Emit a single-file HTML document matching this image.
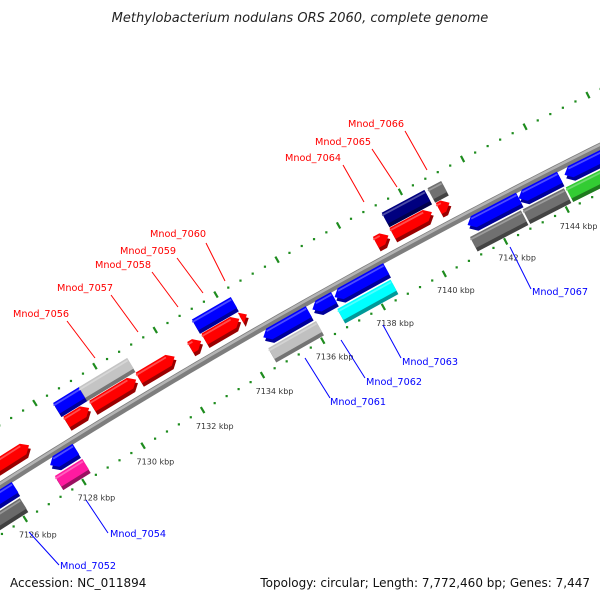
<!DOCTYPE html>
<html><head><meta charset="utf-8"><style>
html,body{margin:0;padding:0;background:#fff;}
svg{display:block;font-family:"DejaVu Sans","Liberation Sans",sans-serif;}
</style></head><body>
<svg id="chart" width="600" height="600" viewBox="0 0 600 600" xmlns="http://www.w3.org/2000/svg">
<rect width="600" height="600" fill="#fff"/>
<text x="300" y="22" text-anchor="middle" font-size="13" font-style="italic" fill="#222">Methylobacterium nodulans ORS 2060, complete genome</text>
<g id="ticks"></g>
<g id="axis"></g>
<g id="genes"></g>
<g id="labels"></g>
<text x="10" y="587" font-size="12" fill="#111">Accession: NC_011894</text>
<text x="590" y="587" font-size="12" fill="#111" text-anchor="end">Topology: circular; Length: 7,772,460 bp; Genes: 7,447</text>
</svg>
<script>
const geneStarts=[7125.0,7128.48,7129.35,7130.9,7132.61,7133.08,7134.28,7138.70,7139.24,7140.74,
 7128.44,7129.3,7133.05,7139.25,7140.73,
 7125.0,7127.43,7134.56,7136.18,7136.91,7141.25,7142.9,7144.38,
 7125.0,7127.38,7134.53,7136.81,7141.15,7142.86,7144.25];
const geneEnds=[7127.22,7129.24,7130.81,7132.09,7132.97,7134.23,7134.48,7139.11,7140.52,7141.09,
 7129.32,7130.91,7134.33,7140.63,7141.17,
 7126.24,7128.30,7136.06,7136.89,7138.6,7142.91,7144.23,7146.5,
 7126.19,7128.31,7136.11,7138.56,7142.80,7144.19,7146.5];
const geneRows=[0,0,0,0,0,0,0,0,0,0, 1,1,1,1,1, 2,2,2,2,2,2,2,2, 3,3,3,3,3,3,3];
const geneColors=["#ff0000","#ff0000","#ff0000","#ff0000","#ff0000","#ff0000","#ff0000","#ff0000","#ff0000","#ff0000",
 "#0000ff","#c4c4c4","#0000ff","#000080","#707070",
 "#0000ff","#0000ff","#0000ff","#0000ff","#0000ff","#0000ff","#0000ff","#0000ff",
 "#6a6a6a","#ff1aa0","#c0c0c0","#00ffff","#707070","#707070","#33cc33"];
const geneArrows=[1,1,1,1,1,1,1,1,1,1, 0,0,0,0,0, -1,-1,-1,-1,-1,-1,-1,-1, 0,0,0,0,0,0,0];
const tickKbp=[7124,7126,7128,7130,7132,7134,7136,7138,7140,7142,7144,7146];
const tickLabels=["7124 kbp","7126 kbp","7128 kbp","7130 kbp","7132 kbp","7134 kbp","7136 kbp","7138 kbp","7140 kbp","7142 kbp","7144 kbp","7146 kbp"];

const NS="http://www.w3.org/2000/svg";
const CX=3549,CY=6064,R=6612,K0=7128,A0=-121.83,DEG=0.3025;
const rowTop=[24.5,41.5,-3.5,-21.5], rowBot=[12,29,-16,-34];
function P(k,r){const a=(A0+(k-K0)*DEG)*Math.PI/180;const rr=R+r;return [CX+rr*Math.cos(a),CY+rr*Math.sin(a)];}
function pts(arr){return arr.map(p=>p[0].toFixed(2)+","+p[1].toFixed(2)).join(" ");}
function shade(hex,f){const n=parseInt(hex.slice(1),16);let r=n>>16,g=(n>>8)&255,b=n&255;
 if(f<1){r*=f;g*=f;b*=f;}else{r=r+(255-r)*(f-1);g=g+(255-g)*(f-1);b=b+(255-b)*(f-1);}
 return "rgb("+Math.round(r)+","+Math.round(g)+","+Math.round(b)+")";}

const tg=document.getElementById('ticks');
[51,-42].forEach(function(rr,li){
 for(let i=0;i<=60;i++){
  const k=7124+i*0.4;
  const major=(i%5===0);
  if(major){
   const a=P(k,rr-3.5),b=P(k,rr+3.5);
   const l=document.createElementNS(NS,'line');
   l.setAttribute('x1',a[0]);l.setAttribute('y1',a[1]);l.setAttribute('x2',b[0]);l.setAttribute('y2',b[1]);
   l.setAttribute('stroke','#1e8c1e');l.setAttribute('stroke-width','2.2');
   
   
   tg.appendChild(l);
  }else{
   const p=P(k,rr);
   const c=document.createElementNS(NS,'rect');
   c.setAttribute('x',p[0]-1);c.setAttribute('y',p[1]-1);c.setAttribute('width',2.2);c.setAttribute('height',2.2);
   c.setAttribute('fill','#1e8c1e');
   
   
   tg.appendChild(c);
  }
 }
});
tickKbp.forEach(function(k,i){
 const p=P(k,-58);
 const t=document.createElementNS(NS,'text');
 t.setAttribute('x',p[0]+4);t.setAttribute('y',p[1]+5);
 t.setAttribute('font-size','8');t.setAttribute('fill','#333');t.setAttribute('text-anchor','middle');
 t.textContent=tickLabels[i];
 
 
 tg.appendChild(t);
});

const ag=document.getElementById('axis');
function arcPath(r){let d="";for(let k=7124;k<=7147;k+=0.25){const p=P(k,r);d+=(d?"L":"M")+p[0].toFixed(2)+" "+p[1].toFixed(2);}return d;}
const ax1=document.createElementNS(NS,'path');
ax1.setAttribute('d',arcPath(-0.5));ax1.setAttribute('fill','none');ax1.setAttribute('stroke','#7e7e7e');ax1.setAttribute('stroke-width','7.5');


ag.appendChild(ax1);
const ax2=document.createElementNS(NS,'path');
ax2.setAttribute('d',arcPath(1.2));ax2.setAttribute('fill','none');ax2.setAttribute('stroke','#b4b4b4');ax2.setAttribute('stroke-width','2.5');


ag.appendChild(ax2);

const gg=document.getElementById('genes');
function genePoly(s,e,top,bot,dir){
 const mid=(top+bot)/2;let ah=0.2;if(ah>e-s)ah=e-s;
 if(dir===1)return [P(s,top),P(e-ah,top),P(e,mid),P(e-ah,bot),P(s,bot)];
 if(dir===-1)return [P(s+ah,top),P(e,top),P(e,bot),P(s+ah,bot),P(s,mid)];
 return [P(s,top),P(e,top),P(e,bot),P(s,bot)];
}
geneStarts.forEach(function(s,i){
 const e=geneEnds[i],row=geneRows[i],col=geneColors[i],dir=geneArrows[i];
 const poly=genePoly(s,e,rowTop[row],rowBot[row],dir);
 const g=document.createElementNS(NS,'g');
 
 
 const sh=document.createElementNS(NS,'polygon');
 sh.setAttribute('points',pts(poly.map(p=>[p[0]+1.8,p[1]+3.5])));
 sh.setAttribute('fill',shade(col,0.6));
 
 
 g.appendChild(sh);
 const m=document.createElementNS(NS,'polygon');
 m.setAttribute('points',pts(poly));
 m.setAttribute('fill',col);
 
 
 g.appendChild(m);
 const top=rowTop[row];
 const hp=[P(s+(dir===-1?0.2:0),top),P(e-(dir===1?0.2:0),top),P(e-(dir===1?0.2:0),top-1.8),P(s+(dir===-1?0.2:0),top-1.8)];
 const hl=document.createElementNS(NS,'polygon');
 hl.setAttribute('points',pts(hp.map(p=>[p[0],p[1]+1.8])));
 hl.setAttribute('fill',shade(col,1.3));
 
 
 g.appendChild(hl);
 gg.appendChild(g);
});

const labelTexts=["Mnod_7056","Mnod_7057","Mnod_7058","Mnod_7059","Mnod_7060","Mnod_7064","Mnod_7065","Mnod_7066",
 "Mnod_7052","Mnod_7054","Mnod_7061","Mnod_7062","Mnod_7063","Mnod_7067"];
const labelX=[13,57,95,120,150,285,315,348, 60,110,330,366,402,532];
const labelY=[317,291,268,254,237,161,145,127, 569,537,405,385,365,295];
const lineA=[[67,321],[111,295],[152,272],[177,258],[206,243],[343,165],[372,149],[405,131],[29,532],[86,500],[305,358],[341,340],[383,325],[510,247]];
const lineB=[[95,358],[138,332],[178,307],[203,293],[225,281],[364,202],[397,187],[427,170],[59,565],[108,533],[330,398],[365,378],[401,358],[531,289]];
const lg=document.getElementById('labels');
labelTexts.forEach(function(txt,i){
 const c=i<8?"#ff0000":"#0000ff";
 const l=document.createElementNS(NS,'line');
 l.setAttribute('x1',lineA[i][0]);l.setAttribute('y1',lineA[i][1]);l.setAttribute('x2',lineB[i][0]);l.setAttribute('y2',lineB[i][1]);
 l.setAttribute('stroke',c);l.setAttribute('stroke-width','1');
 
 
 lg.appendChild(l);
 const t=document.createElementNS(NS,'text');
 t.setAttribute('x',labelX[i]);t.setAttribute('y',labelY[i]);
 t.setAttribute('font-size','9.7');t.setAttribute('fill',c);
 t.textContent=txt;
 
 
 lg.appendChild(t);
});
</script>
</body></html>
